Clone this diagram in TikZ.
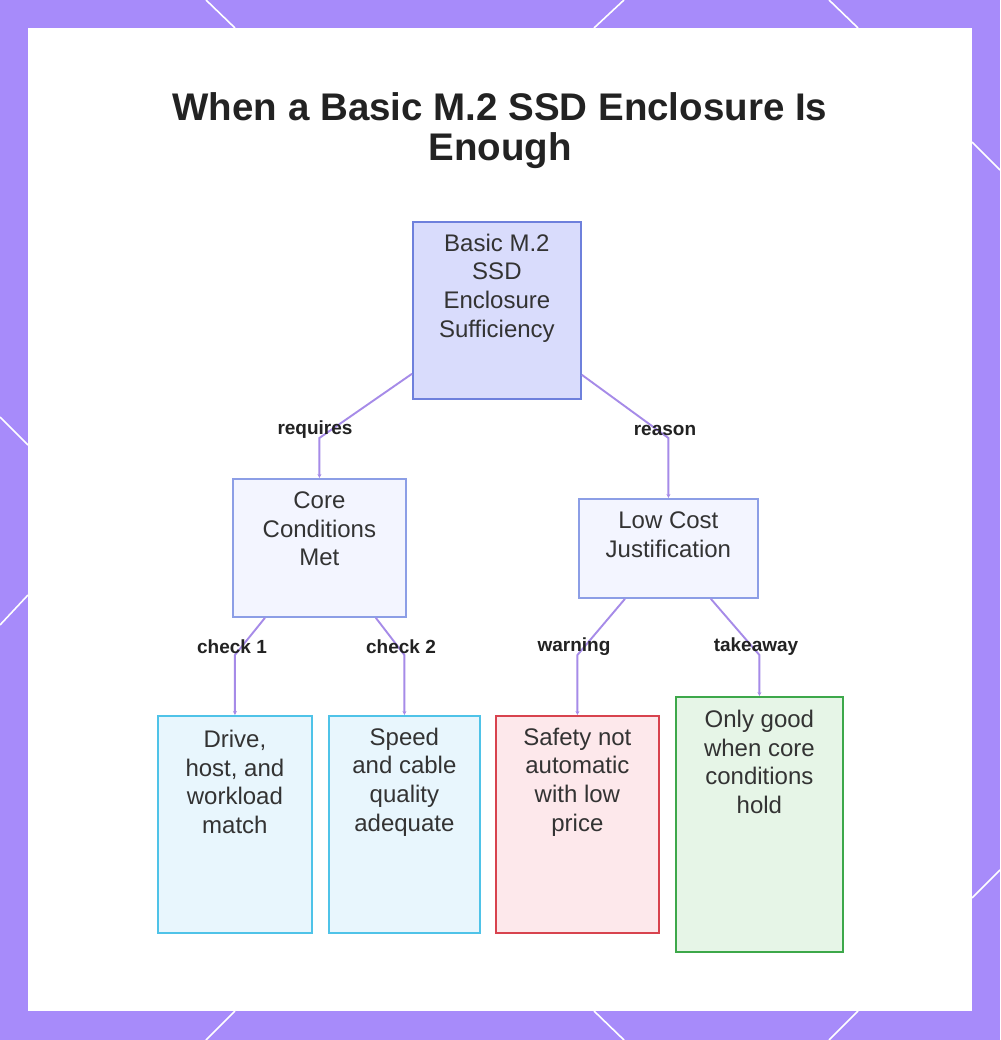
\documentclass[tikz,border=0pt]{standalone}
\usepackage{fontspec}
\setmainfont{Liberation Sans}
\usetikzlibrary{arrows.meta}
\definecolor{frame}{HTML}{A78BFA}
\definecolor{edgec}{HTML}{A68BE8}
\definecolor{rootfill}{HTML}{D9DCFC}
\definecolor{rootdraw}{HTML}{6E80DC}
\definecolor{midfill}{HTML}{F3F5FF}
\definecolor{middraw}{HTML}{8C9EE6}
\definecolor{cyanfill}{HTML}{E8F6FD}
\definecolor{cyandraw}{HTML}{4FC3E8}
\definecolor{redfill}{HTML}{FDE8EB}
\definecolor{reddraw}{HTML}{D8434E}
\definecolor{greenfill}{HTML}{E6F5E7}
\definecolor{greendraw}{HTML}{3DA84A}
\definecolor{txt}{HTML}{333333}
\definecolor{ttl}{HTML}{222222}
\tikzset{
  box/.style={rectangle, inner sep=0pt, line width=1.8pt, anchor=north west},
  rootbox/.style={box, fill=rootfill, draw=rootdraw},
  midbox/.style={box, fill=midfill, draw=middraw},
  cyanbox/.style={box, fill=cyanfill, draw=cyandraw},
  redbox/.style={box, fill=redfill, draw=reddraw},
  greenbox/.style={box, fill=greenfill, draw=greendraw},
  ntext/.style={align=center, text=txt, inner sep=0pt, font=\fontsize{24}{28.6}\selectfont},
  elabel/.style={text=ttl, inner sep=0pt, font=\bfseries\fontsize{19}{22}\selectfont},
  edge/.style={draw=edgec, line width=1.9pt, -{Stealth[length=4pt,width=4pt]}},
  deco/.style={draw=white, line width=1.6pt}
}
\begin{document}
\begin{tikzpicture}[x=1pt,y=-1pt]
\useasboundingbox (0,0) rectangle (1000,1040);
% frame
\fill[frame] (0,0) rectangle (1000,1040);
\fill[white] (28,28) rectangle (972,1011);
\draw[deco] (206,0) -- (235,28);
\draw[deco] (624,0) -- (594,28);
\draw[deco] (829,0) -- (858,28);
\draw[deco] (235,1011) -- (206,1040);
\draw[deco] (594,1011) -- (624,1040);
\draw[deco] (858,1011) -- (829,1040);
\draw[deco] (0,417) -- (28,445);
\draw[deco] (28,595) -- (0,625);
\draw[deco] (972,142) -- (1000,170);
\draw[deco] (972,898) -- (1000,870);
% title
\node[align=center, text=ttl, inner sep=0pt, font=\bfseries\fontsize{38.5}{40}\selectfont] (title) at (500,131) {When a Basic M.2 SSD Enclosure Is\\Enough};
% boxes
\node[rootbox, minimum width=168, minimum height=177] (root) at (412,221) {};
\node[midbox, minimum width=173, minimum height=138] (core) at (232,478) {};
\node[midbox, minimum width=179, minimum height=99] (low) at (578,498) {};
\node[cyanbox, minimum width=154, minimum height=217] (drive) at (157,715) {};
\node[cyanbox, minimum width=151, minimum height=217] (speed) at (328,715) {};
\node[redbox, minimum width=163, minimum height=217] (safety) at (495,715) {};
\node[greenbox, minimum width=167, minimum height=255] (good) at (675,696) {};
% texts
\node[ntext] (roott) at (root.north |- 0,288) {Basic M.2\\SSD\\Enclosure\\Sufficiency};
\node[ntext] (coret) at (core.north |- 0,529) {Core\\Conditions\\Met};
\node[ntext] (lowt) at (low.north |- 0,535) {Low Cost\\Justification};
\node[ntext] (drivet) at (drive.north |- 0,782) {Drive,\\host, and\\workload\\match};
\node[ntext] (speedt) at (speed.north |- 0,782) {Speed\\and cable\\quality\\adequate};
\node[ntext] (safetyt) at (safety.north |- 0,782) {Safety not\\automatic\\with low\\price};
\node[ntext] (goodt) at (good.north |- 0,762) {Only good\\when core\\conditions\\hold};
% bend points
\coordinate (b1) at (core.north |- 0,438);
\coordinate (b2) at (low.north |- 0,438);
\coordinate (b3) at (drive.north |- 0,655);
\coordinate (b4) at (speed.north |- 0,655);
\coordinate (b5) at (safety.north |- 0,655);
\coordinate (b6) at (good.north |- 0,655);
% edges
\draw[edge] ([yshift=26pt]root.south west) -- (b1) -- (core.north);
\draw[edge] ([yshift=25pt]root.south east) -- (b2) -- (low.north);
\draw[edge] ([xshift=33pt]core.south west) -- (b3) -- (drive.north);
\draw[edge] ([xshift=-31pt]core.south east) -- (b4) -- (speed.north);
\draw[edge] ([xshift=47pt]low.south west) -- (b5) -- (safety.north);
\draw[edge] ([xshift=-48pt]low.south east) -- (b6) -- (good.north);
% edge labels
\node[elabel] (l1) at (315,430) {requires};
\node[elabel] (l2) at (665,430) {reason};
\node[elabel] (l3) at (232,647) {check 1};
\node[elabel] (l4) at (401,647) {check 2};
\node[elabel] (l5) at (574,647) {warning};
\node[elabel] (l6) at (756,647) {takeaway};
\end{tikzpicture}
\end{document}
